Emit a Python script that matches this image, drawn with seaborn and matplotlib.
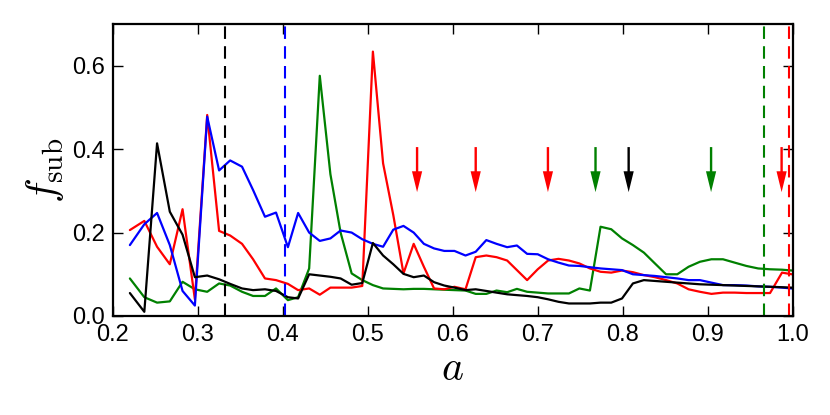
import matplotlib
matplotlib.use("Agg")
import matplotlib.pyplot as plt
from matplotlib import font_manager
import seaborn as sns
import pandas as pd

# scale factor grid
a_vals = [0.220, 0.237, 0.252, 0.267, 0.282, 0.2965, 0.311, 0.325, 0.338, 0.352,
          0.365, 0.379, 0.392, 0.406, 0.418, 0.431, 0.4435, 0.456, 0.468, 0.481,
          0.4935, 0.506, 0.518, 0.530, 0.542, 0.554, 0.566, 0.578, 0.590, 0.602,
          0.615, 0.627, 0.6395, 0.6515, 0.664, 0.6755, 0.6875, 0.700, 0.7122, 0.7244,
          0.7367, 0.749, 0.7614, 0.7739, 0.7865, 0.7992, 0.812, 0.8249, 0.8379, 0.851,
          0.8642, 0.8775, 0.8909, 0.9044, 0.918, 0.9317, 0.9455, 0.9594, 0.9734, 0.9875,
          0.999]

blue_vals = [0.170, 0.220, 0.247, 0.170, 0.060, 0.025, 0.478, 0.349, 0.373, 0.358,
             0.302, 0.238, 0.248, 0.165, 0.247, 0.200, 0.180, 0.186, 0.205, 0.200,
             0.184, 0.173, 0.166, 0.207, 0.216, 0.200, 0.173, 0.162, 0.156, 0.156,
             0.145, 0.154, 0.182, 0.173, 0.165, 0.169, 0.149, 0.148, 0.136, 0.128,
             0.121, 0.120, 0.117, 0.114, 0.112, 0.110, 0.100, 0.098, 0.096, 0.093,
             0.090, 0.086, 0.086, 0.080, 0.074, 0.074, 0.073, 0.071, 0.070, 0.068,
             0.066]

red_vals = [0.206, 0.228, 0.166, 0.124, 0.256, 0.040, 0.482, 0.204, 0.193, 0.173,
            0.136, 0.090, 0.086, 0.077, 0.062, 0.066, 0.051, 0.068, 0.068, 0.068,
            0.072, 0.634, 0.366, 0.242, 0.102, 0.173, 0.118, 0.066, 0.064, 0.070,
            0.064, 0.141, 0.145, 0.141, 0.133, 0.110, 0.086, 0.112, 0.133, 0.137,
            0.133, 0.126, 0.114, 0.106, 0.104, 0.109, 0.105, 0.098, 0.093, 0.086,
            0.078, 0.064, 0.058, 0.053, 0.056, 0.056, 0.055, 0.055, 0.055, 0.104,
            0.100]

green_vals = [0.090, 0.045, 0.032, 0.035, 0.082, 0.064, 0.058, 0.078, 0.073, 0.058,
              0.048, 0.048, 0.066, 0.038, 0.045, 0.114, 0.576, 0.340, 0.200, 0.102,
              0.086, 0.074, 0.066, 0.065, 0.064, 0.065, 0.065, 0.064, 0.063, 0.062,
              0.061, 0.053, 0.053, 0.061, 0.057, 0.065, 0.058, 0.056, 0.054, 0.054,
              0.054, 0.066, 0.061, 0.214, 0.208, 0.186, 0.170, 0.152, 0.126, 0.100,
              0.100, 0.118, 0.130, 0.136, 0.136, 0.128, 0.120, 0.114, 0.112, 0.111,
              0.109]

black_vals = [0.055, 0.010, 0.414, 0.250, 0.195, 0.093, 0.097, 0.088, 0.077, 0.066,
              0.062, 0.064, 0.060, 0.045, 0.042, 0.100, 0.097, 0.094, 0.090, 0.075,
              0.079, 0.175, 0.145, 0.124, 0.101, 0.093, 0.097, 0.081, 0.073, 0.068,
              0.062, 0.064, 0.060, 0.056, 0.052, 0.050, 0.048, 0.045, 0.040, 0.034,
              0.030, 0.030, 0.030, 0.032, 0.032, 0.042, 0.078, 0.086, 0.084, 0.082,
              0.080, 0.078, 0.076, 0.075, 0.074, 0.073, 0.072, 0.071, 0.070, 0.069,
              0.068]

vline_x = [0.332, 0.403, 0.966, 0.996]
vline_colors = ["black", "blue", "green", "red"]

arrow_x = [0.558, 0.627, 0.712, 0.768, 0.807, 0.904, 0.987]
arrow_colors = ["red", "red", "red", "green", "black", "green", "red"]

x_ticks = [0.2, 0.3, 0.4, 0.5, 0.6, 0.7, 0.8, 0.9, 1.0]
y_ticks = [0.0, 0.2, 0.4, 0.6]

sns.set_style("ticks")
avail = {f.name for f in font_manager.fontManager.ttflist}
fam = [f for f in ["Liberation Sans Narrow", "Liberation Sans", "DejaVu Sans"] if f in avail]
plt.rcParams["font.family"] = fam
plt.rcParams["mathtext.fontset"] = "cm"
for k in ["text.color", "axes.labelcolor", "xtick.color", "ytick.color", "axes.edgecolor"]:
    plt.rcParams[k] = "black"

fig = plt.figure(figsize=(8.3, 4.15), dpi=100)
ax = fig.add_axes([0.136, 0.2386, 0.819, 0.7034])

df = pd.DataFrame({"a": a_vals, "blue": blue_vals, "red": red_vals,
                   "green": green_vals, "black": black_vals})
series_colors = {"blue": (0, 0, 1), "red": (1, 0, 0), "green": (0, 0.5, 0), "black": (0, 0, 0)}
for name in ["green", "red", "blue", "black"]:
    sns.lineplot(data=df, x="a", y=name, color=series_colors[name], lw=1.6, ax=ax,
                 estimator=None, sort=True)

for xv, c in zip(vline_x, vline_colors):
    ax.axvline(xv, color=series_colors[c], lw=1.5, ls=(0, (6, 3.5)))

for xv, c in zip(arrow_x, arrow_colors):
    ax.arrow(xv, 0.405, 0, -0.108, width=0.0028, head_width=0.012, head_length=0.05,
             length_includes_head=True, color=series_colors[c], lw=0)

ax.set_xlim(0.2, 1.0)
ax.set_ylim(0.0, 0.7)
ax.set_xticks(x_ticks)
ax.set_yticks(y_ticks)
ax.set_xticklabels([f"{v:.1f}" for v in x_ticks])
ax.set_yticklabels([f"{v:.1f}" for v in y_ticks])
ax.tick_params(direction="in", length=7, width=1, top=True, right=True,
               labelsize=17, pad=6, colors="black")
for s in ax.spines.values():
    s.set_visible(True)
    s.set_linewidth(1.6)
    s.set_edgecolor("black")
ax.set_xlabel(r"$a$", fontsize=30, labelpad=2, color="black")
ax.set_ylabel(r"$f_{\rm sub}$", fontsize=30, labelpad=4, color="black")

fig.savefig("out.png", dpi=100)
